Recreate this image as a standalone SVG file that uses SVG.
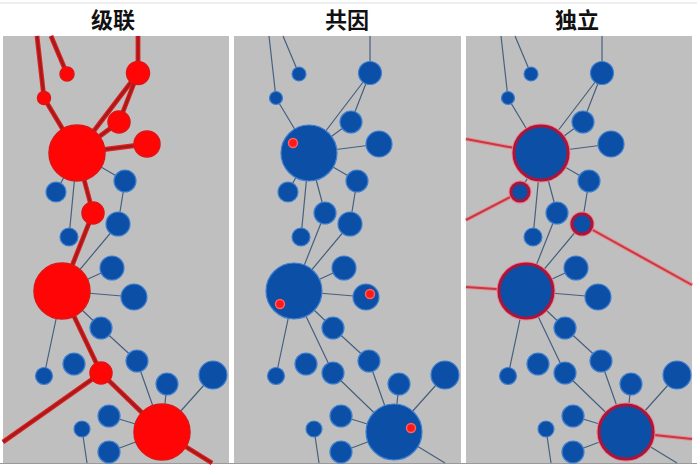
<svg xmlns="http://www.w3.org/2000/svg" width="697" height="469" viewBox="0 0 697 469">
<defs>
<style>
.bg{fill:#bfbfbf;}
.title{font-family:"Noto Sans CJK SC","Noto Sans",sans-serif;font-size:22px;font-weight:bold;fill:#111;text-anchor:middle;}
.thin{stroke:#46607f;stroke-width:1.2;fill:none;}
.redw{stroke:#e42020;stroke-width:4.8;fill:none;stroke-linecap:butt;}
.redc{stroke:#a51a1a;stroke-width:2.6;fill:none;stroke-linecap:butt;}
.pinkw{stroke:#ec8a90;stroke-width:4;fill:none;}
.pinkc{stroke:#c43a44;stroke-width:2;fill:none;}
.blue{fill:#0c4fa6;stroke:#3f7fd0;stroke-width:1.2;}
.red{fill:#ff0505;stroke:#e01414;stroke-width:1.5;}
.rb{fill:#0c4fa6;stroke:#a8163c;stroke-width:3;}
.halo{fill:#ee7f8c;}
.dot{fill:#ff1a1a;stroke:#ff6060;stroke-width:1.5;}
</style>
</defs>
<rect x="0" y="0" width="697" height="469" fill="#ffffff"/>
<line x1="0" y1="3" x2="697" y2="3" stroke="#dddddd" stroke-width="1"/>
<rect class="bg" x="3" y="36" width="226" height="427"/>
<rect class="bg" x="234" y="36" width="227" height="427"/>
<rect class="bg" x="466" y="36" width="226" height="427"/>
<line x1="0" y1="463.5" x2="697" y2="463.5" stroke="#9a9a9a" stroke-width="1"/>
<text class="title" x="113" y="28">级联</text>
<text class="title" x="347" y="28">共因</text>
<text class="title" x="577" y="28">独立</text>

<!-- Panel 1: cascade -->
<g id="cascade">
<g id="cascade-connectors">
<path class="thin" d="M77,153L56,192M77,153L125,181M77,153L69,237M125,181L118,224M118,224L62,291M112,268L62,291M134,297L62,291M62,291L101,328M101,328L137,361M62,291L44,376M137,361L162,432M167,384L162,432M213,375L162,432M109,416L162,432M109,452L162,432M82,429L87,463M109,452L106,463"/>
<path class="redw" d="M37,36L44,98M51,36L67,74M138,36L138,73M138,73L77,153M138,73L119,122M119,122L77,153M147,144L77,153M44,98L77,153M77,153L93,213M93,213L62,291M62,291L101,373M101,373L3,442M101,373L162,432M162,432L212,463"/>
<path class="redc" d="M37,36L44,98M51,36L67,74M138,36L138,73M138,73L77,153M138,73L119,122M119,122L77,153M147,144L77,153M44,98L77,153M77,153L93,213M93,213L62,291M62,291L101,373M101,373L3,442M101,373L162,432M162,432L212,463"/>
</g>
<g id="c-B"><circle class="red" cx="138" cy="73" r="11.5"/></g>
<g id="c-C"><circle class="red" cx="67" cy="74" r="7"/></g>
<g id="c-D"><circle class="red" cx="44" cy="98" r="6.5"/></g>
<g id="c-E"><circle class="red" cx="119" cy="122" r="11"/></g>
<g id="c-F"><circle class="red" cx="147" cy="144" r="13"/></g>
<g id="c-A"><circle class="red" cx="77" cy="153" r="28"/></g>
<g id="c-G"><circle class="blue" cx="56" cy="192" r="10"/></g>
<g id="c-H"><circle class="blue" cx="125" cy="181" r="11"/></g>
<g id="c-I"><circle class="red" cx="93" cy="213" r="11"/></g>
<g id="c-J"><circle class="blue" cx="118" cy="224" r="12"/></g>
<g id="c-K"><circle class="blue" cx="69" cy="237" r="9"/></g>
<g id="c-L"><circle class="red" cx="62" cy="291" r="28"/></g>
<g id="c-M"><circle class="blue" cx="112" cy="268" r="12"/></g>
<g id="c-N"><circle class="blue" cx="134" cy="297" r="13"/></g>
<g id="c-O"><circle class="blue" cx="101" cy="328" r="11"/></g>
<g id="c-P"><circle class="blue" cx="137" cy="361" r="11"/></g>
<g id="c-Q"><circle class="blue" cx="44" cy="376" r="8.5"/></g>
<g id="c-R"><circle class="blue" cx="74" cy="364" r="11"/></g>
<g id="c-S"><circle class="red" cx="101" cy="373" r="11"/></g>
<g id="c-T"><circle class="blue" cx="167" cy="384" r="11"/></g>
<g id="c-U"><circle class="blue" cx="213" cy="375" r="14"/></g>
<g id="c-V"><circle class="blue" cx="109" cy="416" r="11"/></g>
<g id="c-W"><circle class="blue" cx="82" cy="429" r="8"/></g>
<g id="c-X"><circle class="blue" cx="109" cy="452" r="11"/></g>
<g id="c-Y"><circle class="red" cx="162" cy="432" r="28"/></g>
</g>

<!-- Panel 2: common cause -->
<g id="common" transform="translate(232,0)">
<g id="common-connectors">
<path class="thin" d="M37,36L44,98M51,36L67,74M138,36L138,73M138,73L77,153M138,73L119,122M119,122L77,153M147,144L77,153M44,98L77,153M77,153L93,213M93,213L62,291M62,291L101,373M101,373L162,432M162,432L213,463M77,153L56,192M77,153L125,181M77,153L69,237M125,181L118,224M118,224L62,291M112,268L62,291M134,297L62,291M62,291L101,328M101,328L137,361M62,291L44,376M137,361L162,432M167,384L162,432M213,375L162,432M109,416L162,432M109,452L162,432M82,429L87,463M109,452L106,463"/>
</g>
<g id="p-B"><circle class="blue" cx="138" cy="73" r="11.5"/></g>
<g id="p-C"><circle class="blue" cx="67" cy="74" r="7"/></g>
<g id="p-D"><circle class="blue" cx="44" cy="98" r="6.5"/></g>
<g id="p-E"><circle class="blue" cx="119" cy="122" r="11"/></g>
<g id="p-F"><circle class="blue" cx="147" cy="144" r="13"/></g>
<g id="p-A"><circle class="blue" cx="77" cy="153" r="28"/><circle class="dot" cx="61" cy="143" r="4.5"/></g>
<g id="p-G"><circle class="blue" cx="56" cy="192" r="10"/></g>
<g id="p-H"><circle class="blue" cx="125" cy="181" r="11"/></g>
<g id="p-I"><circle class="blue" cx="93" cy="213" r="11"/></g>
<g id="p-J"><circle class="blue" cx="118" cy="224" r="12"/></g>
<g id="p-K"><circle class="blue" cx="69" cy="237" r="9"/></g>
<g id="p-L"><circle class="blue" cx="62" cy="291" r="28"/><circle class="dot" cx="48" cy="304" r="4.5"/></g>
<g id="p-M"><circle class="blue" cx="112" cy="268" r="12"/></g>
<g id="p-N"><circle class="blue" cx="134" cy="297" r="13"/><circle class="dot" cx="138" cy="294" r="4.5"/></g>
<g id="p-O"><circle class="blue" cx="101" cy="328" r="11"/></g>
<g id="p-P"><circle class="blue" cx="137" cy="361" r="11"/></g>
<g id="p-Q"><circle class="blue" cx="44" cy="376" r="8.5"/></g>
<g id="p-R"><circle class="blue" cx="74" cy="364" r="11"/></g>
<g id="p-S"><circle class="blue" cx="101" cy="373" r="11"/></g>
<g id="p-T"><circle class="blue" cx="167" cy="384" r="11"/></g>
<g id="p-U"><circle class="blue" cx="213" cy="375" r="14"/></g>
<g id="p-V"><circle class="blue" cx="109" cy="416" r="11"/></g>
<g id="p-W"><circle class="blue" cx="82" cy="429" r="8"/></g>
<g id="p-X"><circle class="blue" cx="109" cy="452" r="11"/></g>
<g id="p-Y"><circle class="blue" cx="162" cy="432" r="28"/><circle class="dot" cx="179" cy="428" r="4.5"/></g>
</g>

<!-- Panel 3: independent -->
<g id="independent" transform="translate(464,0)">
<g id="independent-connectors">
<path class="thin" d="M37,36L44,98M51,36L67,74M138,36L138,73M138,73L77,153M138,73L119,122M119,122L77,153M147,144L77,153M44,98L77,153M77,153L93,213M93,213L62,291M62,291L101,373M101,373L162,432M162,432L213,463M77,153L56,192M77,153L125,181M77,153L69,237M125,181L118,224M118,224L62,291M112,268L62,291M134,297L62,291M62,291L101,328M101,328L137,361M62,291L44,376M137,361L162,432M167,384L162,432M213,375L162,432M109,416L162,432M109,452L162,432M82,429L87,463M109,452L106,463"/>
<path class="pinkw" d="M2,139L77,153M2,220L56,192M118,224L228,285M2,287L62,291M162,432L228,439"/>
<path class="pinkc" d="M2,139L77,153M2,220L56,192M118,224L228,285M2,287L62,291M162,432L228,439"/>
</g>
<g id="i-B"><circle class="blue" cx="138" cy="73" r="11.5"/></g>
<g id="i-C"><circle class="blue" cx="67" cy="74" r="7"/></g>
<g id="i-D"><circle class="blue" cx="44" cy="98" r="6.5"/></g>
<g id="i-E"><circle class="blue" cx="119" cy="122" r="11"/></g>
<g id="i-F"><circle class="blue" cx="147" cy="144" r="13"/></g>
<g id="i-A"><circle class="halo" cx="77" cy="153" r="29.5"/><circle class="rb" cx="77" cy="153" r="27"/></g>
<g id="i-G"><circle class="halo" cx="56" cy="192" r="11.5"/><circle class="rb" cx="56" cy="192" r="9"/></g>
<g id="i-H"><circle class="blue" cx="125" cy="181" r="11"/></g>
<g id="i-I"><circle class="blue" cx="93" cy="213" r="11"/></g>
<g id="i-J"><circle class="halo" cx="118" cy="224" r="12.5"/><circle class="rb" cx="118" cy="224" r="10"/></g>
<g id="i-K"><circle class="blue" cx="69" cy="237" r="9"/></g>
<g id="i-L"><circle class="halo" cx="62" cy="291" r="29.5"/><circle class="rb" cx="62" cy="291" r="27"/></g>
<g id="i-M"><circle class="blue" cx="112" cy="268" r="12"/></g>
<g id="i-N"><circle class="blue" cx="134" cy="297" r="13"/></g>
<g id="i-O"><circle class="blue" cx="101" cy="328" r="11"/></g>
<g id="i-P"><circle class="blue" cx="137" cy="361" r="11"/></g>
<g id="i-Q"><circle class="blue" cx="44" cy="376" r="8.5"/></g>
<g id="i-R"><circle class="blue" cx="74" cy="364" r="11"/></g>
<g id="i-S"><circle class="blue" cx="101" cy="373" r="11"/></g>
<g id="i-T"><circle class="blue" cx="167" cy="384" r="11"/></g>
<g id="i-U"><circle class="blue" cx="213" cy="375" r="14"/></g>
<g id="i-V"><circle class="blue" cx="109" cy="416" r="11"/></g>
<g id="i-W"><circle class="blue" cx="82" cy="429" r="8"/></g>
<g id="i-X"><circle class="blue" cx="109" cy="452" r="11"/></g>
<g id="i-Y"><circle class="halo" cx="162" cy="432" r="29.5"/><circle class="rb" cx="162" cy="432" r="27"/></g>
</g>
</svg>
